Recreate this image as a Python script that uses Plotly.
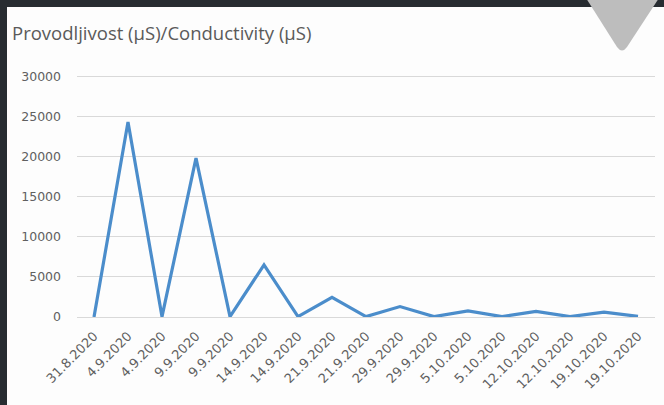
import plotly.graph_objects as go

dates = ["31.8.2020", "4.9.2020", "4.9.2020", "9.9.2020", "9.9.2020", "14.9.2020",
         "14.9.2020", "21.9.2020", "21.9.2020", "29.9.2020", "29.9.2020", "5.10.2020",
         "5.10.2020", "12.10.2020", "12.10.2020", "19.10.2020", "19.10.2020"]
conductivity = [0, 24300, 50, 19800, 50, 6500, 50, 2450, 50, 1300, 50, 750, 50, 700, 50, 600, 80]
y_ticks = [0, 5000, 10000, 15000, 20000, 25000, 30000]
title_text = "Provodljivost (µS)/Conductivity (µS)"

W, H = 664, 405
L, R, T, B = 77, 9, 73, 88
PW, PH = W - L - R, H - T - B

def px(x):
    return (x - L) / PW

def py(y):
    return 1 - (y - T) / PH

x_idx = list(range(len(dates)))

fig = go.Figure()
fig.add_trace(go.Scatter(
    x=x_idx, y=conductivity, mode="lines",
    line=dict(color="#4b8dcb", width=3.2),
    hoverinfo="skip", showlegend=False,
))

shapes = [
    dict(type="rect", xref="paper", yref="paper", layer="below",
         x0=px(7), x1=px(W + 5), y0=py(H + 5), y1=py(7),
         fillcolor="#fdfdfd", line=dict(width=0)),
    dict(type="path", xref="paper", yref="paper", layer="above",
         path=f"M {px(586)} {py(-2)} L {px(659)} {py(-2)} L {px(627)} {py(47)} "
              f"Q {px(622)} {py(54)} {px(617)} {py(47)} Z",
         fillcolor="#bdbdbd", line=dict(width=0)),
]

fig.update_layout(
    width=W, height=H,
    margin=dict(l=L, r=R, t=T, b=B),
    paper_bgcolor="#272c31",
    plot_bgcolor="rgba(0,0,0,0)",
    shapes=shapes,
    title=dict(text=title_text, xref="container", yref="container",
               x=12 / W, xanchor="left", y=1 - 27 / H, yanchor="top",
               font=dict(family="Open Sans", size=18.5, color="#5a5a5a")),
    font=dict(family="Open Sans", color="#595959"),
)
fig.update_xaxes(
    range=[-0.5, len(dates) - 0.5], tickmode="array", tickvals=x_idx, ticktext=dates,
    tickangle=-45, tickfont=dict(family="DejaVu Sans", size=13, color="#606060"),
    showgrid=False, zeroline=False, showline=False, ticks="", ticklabelstandoff=8,
)
fig.update_yaxes(
    range=[0, 30400], tickmode="array", tickvals=y_ticks,
    ticktext=[str(v) for v in y_ticks],
    tickfont=dict(family="DejaVu Sans", size=12.5, color="#606060"),
    showgrid=True, gridcolor="#d9d9d9", gridwidth=1,
    zeroline=True, zerolinecolor="#d9d9d9", zerolinewidth=1,
    showline=False, ticks="", ticklabelstandoff=15,
)

fig.write_html("out.html")
